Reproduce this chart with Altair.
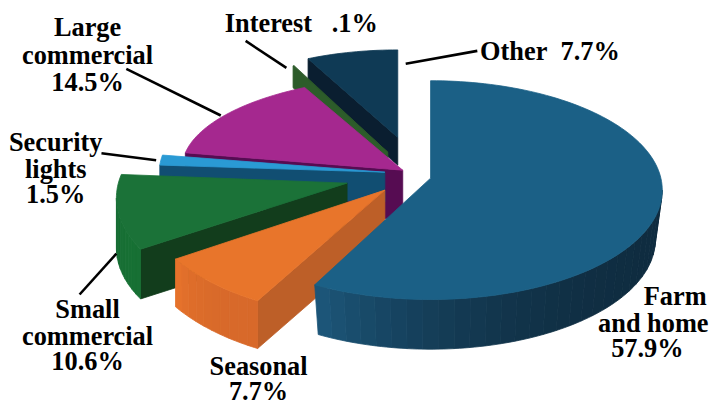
import math
import altair as alt
import pandas as pd

# shares of the pie, percent
names = ["Farm and home", "Seasonal", "Small commercial", "Security lights", "Large commercial", "Interest", "Other"]
shares = [57.9, 7.7, 10.6, 1.5, 14.5, 0.1, 7.7]

# perspective geometry of each exploded slice (pixels of the picture)
centre_x = [431, 368, 349, 392, 414, 384, 398]
centre_y = [190, 187, 198, 173, 168, 133, 126]
radius_x = [233, 233, 234, 234, 233, 194, 194]
radius_y = [110, 130, 116, 108, 92, 77, 77]
apex_x = [431, 385, 347, 385, 403, 388, 398]
apex_y = [178, 190, 183, 172, 170, 152, 137]
depth = [50, 48, 50, 30, 50, 22, 28]
floor_scale = [0.97, 1, 1, 1, 1, 1, 1]
angle_shift = [0, 0, 7.5, 0, 0, 0, 0]
angle_stretch = [1.0075, 1, 1, 1, 1, 1, 1]

top_colour = ["#1b6086", "#e8752b", "#1b7238", "#2a9ad4", "#a5288f", "#2c5a2a", "#0f3a55"]
side_colour = [None, "#bd5f28", "#123d1c", "#114e72", "#560c52", "#2d5c2a", "#0a1e30"]
wall_start = ["#0f2c40", "#d8692a", "#177034", None, None, None, None]
wall_end = ["#1c5578", "#e5722b", "#156a32", None, None, None, None]

# labels
label_text = ["Large", "commercial", "14.5%", "Interest\u00a0\u00a0\u00a0.1%", "Other\u00a0\u00a07.7%",
              "Security", "lights", "1.5%", "Small", "commercial", "10.6%",
              "Seasonal", "7.7%", "Farm", "and home", "57.9%"]
label_x = [86, 86, 86, 301, 551, 54, 54, 54, 86, 86, 86, 258, 258, 677, 655, 649]
label_y = [27, 55, 82, 23, 51, 143, 170, 195, 311, 338, 363, 368, 393, 298, 325, 350]

# leader lines
lead_x = [406, 245, 125, 100, 115]
lead_y = [63, 40, 68, 153, 254]
lead_x2 = [478, 286, 220, 155, 78]
lead_y2 = [50, 67, 115, 160, 295]


def mix(a, b, f):
    ca = [int(a[i:i + 2], 16) for i in (1, 3, 5)]
    cb = [int(b[i:i + 2], 16) for i in (1, 3, 5)]
    return "#%02x%02x%02x" % tuple(round(p + (q - p) * f) for p, q in zip(ca, cb))


rows = []
poly = 0
seq = 0


def add(points, colour):
    global poly, seq
    poly += 1
    for x, y in points + points[:1]:
        seq += 1
        rows.append({"poly": f"p{poly:04d}", "seq": seq, "x": x, "y": y, "c": colour})


starts = [sum(shares[:i]) for i in range(len(shares))]
# paint from the back of the picture to the front
for i in range(len(shares) - 1, -1, -1):
    share = shares[i]
    t0 = starts[i] * 3.6 + angle_shift[i]
    t1 = t0 + share * 3.6 * angle_stretch[i]

    def top(t):
        r = math.radians(t)
        return (centre_x[i] + radius_x[i] * math.sin(r), centre_y[i] - radius_y[i] * math.cos(r))

    def floor(t):
        r = math.radians(t)
        s = floor_scale[i]
        return (centre_x[i] + radius_x[i] * s * math.sin(r),
                centre_y[i] + depth[i] - radius_y[i] * math.cos(r))

    apex = (apex_x[i], apex_y[i])
    apex_low = (apex_x[i], apex_y[i] + depth[i])
    if side_colour[i]:
        add([top(t0), apex, apex_low, floor(t0)], side_colour[i])
    if wall_start[i]:
        a = max(t0, 90)
        b = min(t1, 270)
        n = 30 if i == 0 else 10
        for k in range(n):
            ta = a + (b - a) * k / n
            tb = a + (b - a) * (k + 1) / n
            steps = 3
            upper = [top(ta + (tb - ta) * q / steps) for q in range(steps + 1)]
            lower = [floor(tb - (tb - ta) * q / steps) for q in range(steps + 1)]
            add(upper + lower, mix(wall_start[i], wall_end[i], (k / (n - 1)) ** 3))
    steps = max(4, int((t1 - t0) / 1.5))
    add([apex] + [top(t0 + (t1 - t0) * q / steps) for q in range(steps + 1)], top_colour[i])

faces = pd.DataFrame(rows)
x_scale = alt.Scale(domain=[8, 709], range=[0, 701], nice=False, zero=False)
y_scale = alt.Scale(domain=[8, 404], range=[0, 396], nice=False, zero=False)

pie = alt.Chart(faces).mark_line(strokeWidth=0.8, interpolate="linear").encode(
    x=alt.X("x:Q", scale=x_scale, axis=None),
    y=alt.Y("y:Q", scale=y_scale, axis=None),
    detail="poly:N",
    fill=alt.Fill("c:N", scale=None),
    stroke=alt.Stroke("c:N", scale=None),
    order=alt.Order("seq:Q"),
)

leaders = alt.Chart(pd.DataFrame({"x": lead_x, "y": lead_y, "x2": lead_x2, "y2": lead_y2})).mark_rule(
    color="#000000", strokeWidth=2.6
).encode(
    x=alt.X("x:Q", scale=x_scale, axis=None),
    y=alt.Y("y:Q", scale=y_scale, axis=None),
    x2="x2:Q",
    y2="y2:Q",
)

labels = alt.Chart(pd.DataFrame({"t": label_text, "x": label_x, "y": label_y})).mark_text(
    font="Liberation Serif", fontWeight="bold", fontSize=26.5, color="#000000",
    align="center", baseline="middle",
).encode(
    x=alt.X("x:Q", scale=x_scale, axis=None),
    y=alt.Y("y:Q", scale=y_scale, axis=None),
    text="t:N",
)

chart = (pie + leaders + labels).properties(
    width=701, height=396, padding=0, background="#ffffff"
).configure_view(stroke=None)

chart.save("out.html", embed_options={"renderer": "svg", "actions": False})
